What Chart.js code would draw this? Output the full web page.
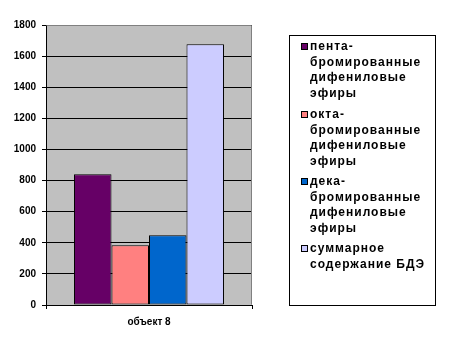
<!DOCTYPE html>
<html>
<head>
<meta charset="utf-8">
<script src="https://cdn.jsdelivr.net/npm/chart.js@4/dist/chart.umd.min.js"></script>
<style>
html,body{margin:0;padding:0;background:#fff;}
#wrap{width:456px;height:360px;}
</style>
</head>
<body>
<div id="wrap"><canvas id="c" width="456" height="360"></canvas></div>
<script>
const categories = ['объект 8'];
const seriesNames = [
  ['пента-', 'бромированные', 'дифениловые', 'эфиры'],
  ['окта-', 'бромированные', 'дифениловые', 'эфиры'],
  ['дека-', 'бромированные', 'дифениловые', 'эфиры'],
  ['суммарное', 'содержание БДЭ']
];
const pentaValues = [840];
const octaValues = [384];
const decaValues = [448];
const totalValues = [1676];
const seriesColors = ['#660066', '#FF8080', '#0066CC', '#CCCCFF'];
const yTicks = [0, 200, 400, 600, 800, 1000, 1200, 1400, 1600, 1800];

const allValues = [pentaValues, octaValues, decaValues, totalValues];
const datasets = allValues.map((vals, i) => ({
  label: seriesNames[i].join(' '),
  data: vals,
  backgroundColor: seriesColors[i],
  borderColor: '#000',
  borderWidth: 1,
  borderSkipped: false,
  barPercentage: 1,
  categoryPercentage: 0.728
}));

const plotBg = {
  id: 'plotBg',
  beforeDraw(chart) {
    const {ctx, chartArea: a} = chart;
    ctx.save();
    ctx.fillStyle = '#C0C0C0';
    ctx.fillRect(a.left, a.top, a.right - a.left, a.bottom - a.top);
    ctx.restore();
  },
  afterDraw(chart) {
    const {ctx, chartArea: a} = chart;
    ctx.save();
    ctx.strokeStyle = '#808080';
    ctx.lineWidth = 1;
    ctx.beginPath();
    ctx.moveTo(Math.round(a.left) + 0.5, Math.round(a.top) + 0.5);
    ctx.lineTo(Math.round(a.right) - 0.5, Math.round(a.top) + 0.5);
    ctx.lineTo(Math.round(a.right) - 0.5, Math.round(a.bottom) - 0.5);
    ctx.stroke();
    ctx.restore();
  }
};

const boxLegend = {
  id: 'boxLegend',
  afterDraw(chart) {
    const ctx = chart.ctx;
    ctx.save();
    ctx.strokeStyle = '#000';
    ctx.lineWidth = 1;
    ctx.strokeRect(289.5, 35.5, 146, 270);
    ctx.font = 'bold 12px "Liberation Sans", Arial, sans-serif';
    ctx.letterSpacing = '1px';
    ctx.textBaseline = 'middle';
    ctx.textAlign = 'left';
    const starts = [46, 114, 181, 248];
    const step = 15.5;
    chart.data.datasets.forEach((ds, i) => {
      const y0 = starts[i];
      ctx.fillStyle = ds.backgroundColor;
      ctx.fillRect(301, y0 - 3, 7, 7);
      ctx.strokeStyle = '#000';
      ctx.strokeRect(301.5, y0 - 2.5, 6, 6);
      ctx.fillStyle = '#000';
      seriesNames[i].forEach((line, j) => {
        ctx.fillText(line, 310, y0 + j * step + 1);
      });
    });
    ctx.restore();
  }
};

new Chart(document.getElementById('c'), {
  type: 'bar',
  data: { labels: categories, datasets },
  options: {
    responsive: false,
    animation: false,
    devicePixelRatio: 1,
    layout: { padding: { top: 25, right: 204, left: 0, bottom: 0 } },
    plugins: { legend: { display: false }, tooltip: { enabled: false } },
    scales: {
      x: {
        afterFit(s) { s.height = 55; },
        grid: { display: true, drawOnChartArea: false, drawTicks: true, tickLength: 4, color: '#000', offset: true },
        border: { display: true, color: '#000', width: 1 },
        ticks: { color: '#000', padding: 7, font: { family: '"Liberation Sans", Arial, sans-serif', size: 10, weight: 'bold' } }
      },
      y: {
        min: 0, max: 1800,
        afterFit(s) { s.width = 46; },
        afterBuildTicks(s) { s.ticks = yTicks.map(v => ({ value: v })); },
        grid: { color: '#000', lineWidth: 1, tickLength: 4, drawTicks: true },
        border: { display: true, color: '#000', width: 1 },
        ticks: { color: '#000', padding: 6, callback: v => String(v), font: { family: '"Liberation Sans", Arial, sans-serif', size: 10, weight: 'bold' } }
      }
    }
  },
  plugins: [plotBg, boxLegend]
});
</script>
</body>
</html>
